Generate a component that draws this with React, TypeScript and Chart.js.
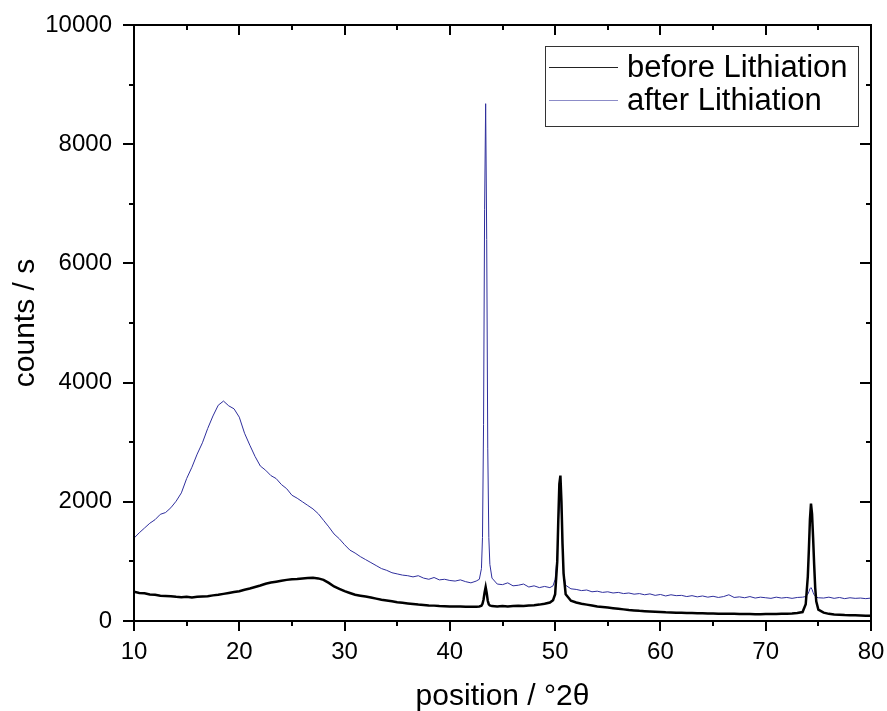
import React, { useEffect, useRef } from "react";
import { Chart, registerables } from "chart.js";

Chart.register(...registerables);

// 2θ positions (degrees)
const positions = [
  10, 10.5, 11, 11.5, 12, 12.5, 13, 13.5, 14, 14.5, 15, 15.5, 16, 16.5, 17, 17.5, 18, 18.5, 19, 19.5,
  20, 20.5, 21, 21.5, 22, 22.5, 23, 23.5, 24, 24.5, 25, 25.5, 26, 26.5, 27, 27.5, 28, 28.5, 29, 29.5,
  30, 30.5, 31, 31.5, 32, 32.5, 33, 33.5, 34, 34.5, 35, 35.5, 36, 36.5, 37, 37.5, 38, 38.5, 39, 39.5,
  40, 40.5, 41, 41.5, 42, 42.5,
  42.8, 43, 43.1, 43.2, 43.3, 43.4, 43.5, 43.6, 43.7, 43.8, 44,
  44.5, 45, 45.5, 46, 46.5, 47, 47.5, 48, 48.5, 49, 49.5,
  49.8, 50, 50.2, 50.3, 50.4, 50.5, 50.6, 50.7, 50.8, 51,
  51.5, 52, 52.5, 53, 53.5, 54, 54.5, 55, 55.5, 56, 56.5, 57, 57.5, 58, 58.5, 59, 59.5, 60, 60.5, 61,
  61.5, 62, 62.5, 63, 63.5, 64, 64.5, 65, 65.5, 66, 66.5, 67, 67.5, 68, 68.5, 69, 69.5, 70, 70.5, 71,
  71.5, 72, 72.5, 73, 73.5,
  73.8, 74, 74.1, 74.2, 74.3, 74.4, 74.5, 74.6, 74.7, 74.8, 75,
  75.5, 76, 76.5, 77, 77.5, 78, 78.5, 79, 79.5, 80,
];

// counts / s, before lithiation (black)
const beforeLithiation = [
  490, 470, 465, 445, 440, 425, 420, 415, 405, 400, 405, 395, 405, 410, 415, 430, 440, 455, 470, 485,
  500, 525, 545, 570, 595, 625, 645, 660, 675, 690, 700, 705, 715, 720, 725, 715, 690, 640, 580, 540,
  500, 470, 440, 425, 410, 395, 375, 355, 345, 330, 315, 305, 295, 285, 275, 268, 262, 258, 252, 248,
  245, 245, 242, 240, 238, 240,
  245, 255, 290, 360, 480, 570, 470, 340, 280, 260, 250,
  245, 250, 245, 250, 255, 250, 260, 265, 275, 290, 310,
  350, 450, 1000, 1700, 2300, 2440, 2000, 1300, 800, 450,
  340, 310, 290, 275, 260, 245, 235, 225, 215, 205, 195, 185, 178, 170, 165, 160, 155, 150, 145, 142,
  140, 137, 135, 133, 130, 128, 127, 125, 123, 122, 120, 120, 118, 117, 116, 115, 115, 116, 117, 118,
  120, 123, 127, 135, 150,
  280, 750, 1200, 1700, 1970, 1800, 1400, 950, 560, 330, 190,
  140, 120, 110, 105, 100, 98, 95, 93, 90, 88,
];

// counts / s, after lithiation (blue)
const afterLithiation = [
  1390, 1480, 1560, 1640, 1700, 1790, 1820, 1900, 2010, 2150, 2390, 2580, 2800, 2990, 3230, 3440, 3620, 3690, 3610, 3560,
  3420, 3150, 2950, 2760, 2600, 2530, 2440, 2390, 2290, 2220, 2110, 2060, 2000, 1940, 1880, 1800, 1690, 1580, 1460, 1380,
  1280, 1190, 1140, 1080, 1030, 980, 930, 880, 850, 810, 790, 770, 760, 740, 760, 720, 700, 730, 690, 700,
  680, 670, 690, 660, 640, 670,
  700, 880, 1400, 3300, 6900, 8680, 6400, 2900, 1400, 950, 720,
  620, 610, 640, 590, 600, 620, 570, 590, 560, 580, 560,
  590, 700, 1100, 1600, 2050, 2200, 1800, 1200, 800, 600,
  540, 530, 510, 520, 490, 500, 480, 490, 470, 480, 460, 470, 450, 460, 440, 455, 430, 445, 420, 440,
  425, 430, 410, 425, 405, 420, 400, 415, 395, 410, 440, 395, 405, 390, 410, 385, 400, 390, 380, 400,
  385, 395, 380, 395, 400,
  410, 450, 490, 540, 560, 530, 480, 440, 420, 400, 390,
  385, 400, 380, 395, 375, 390, 380, 385, 375, 385,
];

const seriesLabels = ["before Lithiation", "after Lithiation"];
const seriesColors = ["#000000", "#2e2e9c"];
const legendColors = ["#222222", "#8c8cc8"];
const xAxisTitle = "position / °2θ";
const yAxisTitle = "counts / s";
const xRange = [10, 80];
const yRange = [0, 10000];
const xMajorStep = 10;
const xMinorStep = 5;
const yMajorStep = 2000;
const yMinorStep = 1000;

const FONT = "'Liberation Sans', Arial, Helvetica, sans-serif";

const frameTicksPlugin = {
  id: "frameTicks",
  afterDatasetsDraw(chart: any) {
    const { ctx, chartArea } = chart;
    const xs = chart.scales.x;
    const ys = chart.scales.y;
    const { left, right, top, bottom } = chartArea;
    ctx.save();
    ctx.strokeStyle = "#000";
    ctx.lineWidth = 2;
    ctx.beginPath();
    ctx.rect(left, top, right - left, bottom - top);
    ctx.stroke();
    ctx.beginPath();
    for (let v = xRange[0]; v <= xRange[1] + 1e-9; v += xMinorStep) {
      const px = Math.round(xs.getPixelForValue(v));
      const len = Math.abs(v % xMajorStep) < 1e-9 ? 10 : 5;
      ctx.moveTo(px, bottom);
      ctx.lineTo(px, bottom + len);
      ctx.moveTo(px, top);
      ctx.lineTo(px, top + len);
    }
    for (let v = yRange[0]; v <= yRange[1] + 1e-9; v += yMinorStep) {
      const py = Math.round(ys.getPixelForValue(v));
      const len = Math.abs(v % yMajorStep) < 1e-9 ? 11 : 5;
      ctx.moveTo(left - len, py);
      ctx.lineTo(left, py);
      ctx.moveTo(right, py);
      ctx.lineTo(right - len, py);
    }
    ctx.stroke();
    ctx.restore();
  },
};

const legendPlugin = {
  id: "boxLegend",
  afterDraw(chart: any) {
    const { ctx, chartArea } = chart;
    const bx = chartArea.left + 411;
    const by = chartArea.top + 21;
    const bw = 313;
    const bh = 80;
    ctx.save();
    ctx.fillStyle = "#fff";
    ctx.fillRect(bx, by, bw, bh);
    ctx.strokeStyle = "#333";
    ctx.lineWidth = 1;
    ctx.strokeRect(bx + 0.5, by + 0.5, bw, bh);
    ctx.font = `31px ${FONT}`;
    ctx.textBaseline = "middle";
    ctx.textAlign = "left";
    chart.data.datasets.forEach((ds: any, i: number) => {
      const ly = by + 21 + i * 33;
      ctx.strokeStyle = legendColors[i];
      ctx.lineWidth = 1;
      ctx.beginPath();
      ctx.moveTo(bx + 4, ly + 0.5);
      ctx.lineTo(bx + 73, ly + 0.5);
      ctx.stroke();
      ctx.fillStyle = "#000";
      ctx.fillText(ds.label, bx + 82, ly + 1);
    });
    ctx.restore();
  },
};

export default function App() {
  const canvasRef = useRef<HTMLCanvasElement | null>(null);

  useEffect(() => {
    if (!canvasRef.current) return;
    const chart = new Chart(canvasRef.current, {
      type: "line",
      data: {
        datasets: [
          {
            label: seriesLabels[0],
            data: positions.map((x, i) => ({ x, y: beforeLithiation[i] })),
            borderColor: seriesColors[0],
            borderWidth: 2.5,
            pointRadius: 0,
            tension: 0,
          },
          {
            label: seriesLabels[1],
            data: positions.map((x, i) => ({ x, y: afterLithiation[i] })),
            borderColor: seriesColors[1],
            borderWidth: 1,
            pointRadius: 0,
            tension: 0,
          },
        ],
      },
      options: {
        animation: false,
        responsive: true,
        maintainAspectRatio: false,
        layout: { padding: { top: 25, right: 16, left: 0, bottom: 0 } },
        plugins: {
          legend: { display: false },
          tooltip: { enabled: false },
        },
        scales: {
          x: {
            type: "linear",
            min: xRange[0],
            max: xRange[1],
            grid: { display: false, drawTicks: false },
            border: { display: false },
            ticks: {
              stepSize: xMajorStep,
              color: "#000",
              font: { family: FONT, size: 24 },
              padding: 17,
              callback: (v: any) => String(v),
            },
            title: {
              display: true,
              text: xAxisTitle,
              color: "#000",
              font: { family: FONT, size: 30 },
              padding: { top: 0, bottom: -4 },
            },
            afterFit: (s: any) => {
              s.height = 90;
              s.paddingLeft = 0;
              s.paddingRight = 0;
            },
          },
          y: {
            type: "linear",
            min: yRange[0],
            max: yRange[1],
            grid: { display: false, drawTicks: false },
            border: { display: false },
            ticks: {
              stepSize: yMajorStep,
              color: "#000",
              font: { family: FONT, size: 24 },
              padding: 22,
              callback: (v: any) => String(v),
            },
            title: {
              display: true,
              text: yAxisTitle,
              color: "#000",
              font: { family: FONT, size: 30 },
              padding: { top: 8, bottom: 0 },
            },
            afterFit: (s: any) => {
              s.width = 134;
              s.paddingTop = 0;
              s.paddingBottom = 0;
            },
          },
        },
      },
      plugins: [frameTicksPlugin, legendPlugin],
    });
    return () => chart.destroy();
  }, []);

  return (
    <div style={{ position: "fixed", left: 0, top: 0, width: 887, height: 711, background: "#fff" }}>
      <canvas ref={canvasRef} />
    </div>
  );
}
